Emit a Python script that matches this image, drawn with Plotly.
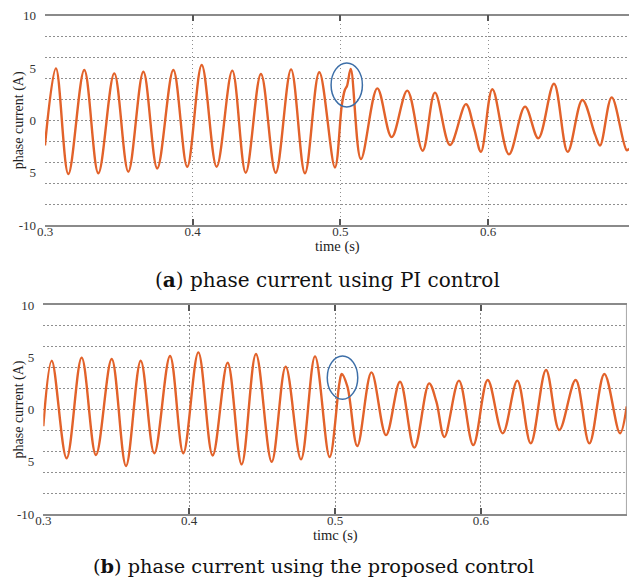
import plotly.graph_objects as go

# ---------------- data ----------------
# (a) PI control
t_a = [0.3000, 0.3074, 0.3158, 0.3266, 0.3361, 0.3469, 0.3564, 0.3666, 0.3760,
       0.3869, 0.3963, 0.4061, 0.4162, 0.4268, 0.4359, 0.4462, 0.4562, 0.4666,
       0.4760, 0.4857, 0.4963, 0.5010, 0.5030, 0.5045, 0.5070, 0.5139, 0.5250,
       0.5347, 0.5453, 0.5557, 0.5640, 0.5742, 0.5850, 0.5905, 0.5952, 0.6029,
       0.6141, 0.6250, 0.6340, 0.6446, 0.6539, 0.6638, 0.6725, 0.6758, 0.6837,
       0.6938, 0.6955]
i_a = [-2.4, 4.97, -5.13, 4.81, -5.06, 4.49, -4.90, 4.65, -4.59,
       4.81, -4.43, 5.29, -4.43, 4.75, -5.00, 4.43, -5.00, 4.87,
       -5.06, 4.60, -4.50, 1.50, 2.90, 3.30, 4.90, -3.70, 3.06,
       -1.60, 2.84, -2.90, 2.65, -2.35, 1.55, -0.76, -3.00, 2.97,
       -3.25, 1.31, -1.71, 3.50, -3.00, 1.95, -1.39, -2.40, 2.20,
       -2.85, -2.70]

# (b) proposed control
t_b = [0.3000, 0.3058, 0.3160, 0.3263, 0.3361, 0.3469, 0.3567, 0.3668, 0.3761,
       0.3869, 0.3960, 0.4063, 0.4161, 0.4264, 0.4360, 0.4458, 0.4566, 0.4662,
       0.4767, 0.4863, 0.4963, 0.5030, 0.5046, 0.5085, 0.5153, 0.5250, 0.5350,
       0.5446, 0.5544, 0.5645, 0.5695, 0.5750, 0.5850, 0.5948, 0.6047, 0.6150,
       0.6250, 0.6342, 0.6447, 0.6538, 0.6650, 0.6744, 0.6847, 0.6954, 0.7000]
i_b = [-1.6, 4.67, -4.67, 4.96, -4.35, 4.83, -5.40, 4.67, -4.19,
       5.12, -4.19, 5.47, -4.40, 4.48, -5.25, 5.31, -5.00, 4.10,
       -4.77, 5.08, -4.55, 2.50, 3.40, 2.20, -3.50, 3.55, -2.45,
       2.66, -3.65, 2.50, 0.75, -2.63, 2.76, -3.40, 2.82, -2.28,
       2.76, -3.24, 3.78, -1.96, 2.82, -3.24, 3.40, -2.28, 0.30]

x_ticks = [0.3, 0.4, 0.5, 0.6, 0.7]
x_ticktext = ["0.3", "0.4", "0.5", "0.6", "0.7"]
y_grid = [-10, -8, -6, -4, -2, 0, 2, 4, 6, 8, 10]
y_ticks = [-10, -5, 0, 5, 10]
y_ticktext = ["-10", "5", "0", "5", "10"]

# highlighted regions (ellipses), in data units
ell_a = dict(x0=0.4937, x1=0.5149, y0=1.28, y1=5.48)
ell_b = dict(x0=0.4947, x1=0.5156, y0=0.98, y1=5.12)

captions = ["(<b>a</b>) phase current using PI control",
            "(<b>b</b>) phase current using the proposed control"]
x_titles = ["time (s)", "timc (s)"]
y_title = "phase current (A)"

# ---------------- figure ----------------
W, H = 629, 586
LINE = "#E2622A"
GRID = "#8f8f8f"
DASH = "1.5px,2.5px"
SERIF = "Liberation Serif"
CAP_FONT = "DejaVu Serif"

fig = go.Figure()
fig.add_trace(go.Scatter(x=t_a, y=i_a, mode="lines", xaxis="x", yaxis="y",
                         line=dict(color=LINE, width=2.4, shape="spline", smoothing=1.0),
                         showlegend=False, hoverinfo="x+y"))
fig.add_trace(go.Scatter(x=t_b, y=i_b, mode="lines", xaxis="x2", yaxis="y2",
                         line=dict(color=LINE, width=2.4, shape="spline", smoothing=1.0),
                         showlegend=False, hoverinfo="x+y"))
# invisible anchors so the label axes are drawn
for xa, ya in (("x", "y3"), ("x2", "y4")):
    fig.add_trace(go.Scatter(x=[x_ticks[0]], y=[y_ticks[2]], mode="markers", xaxis=xa, yaxis=ya,
                             marker=dict(opacity=0), showlegend=False, hoverinfo="skip"))

def xax(domain, rng, anchor):
    return dict(domain=domain, range=rng, anchor=anchor, automargin=False,
                tickmode="array", tickvals=x_ticks, ticktext=x_ticktext,
                ticks="inside", ticklen=6, tickwidth=2, tickcolor="#555",
                showline=True, linecolor="#8a8a8a", linewidth=1.5, mirror="ticks",
                showgrid=True, gridcolor=GRID, gridwidth=1, griddash=DASH,
                zeroline=False, ticklabelstandoff=-6,
                tickfont=dict(family=SERIF, size=13, color="#333"))

def ygrid(domain, anchor):
    return dict(domain=domain, range=[-10, 10], anchor=anchor, automargin=False,
                tickmode="array", tickvals=y_grid, showticklabels=False,
                ticks="", showline=False, zeroline=False,
                showgrid=True, gridcolor=GRID, gridwidth=1, griddash=DASH)

def ylab(over, anchor):
    return dict(overlaying=over, range=[-10, 10], anchor=anchor, side="left",
                automargin=False,
                tickmode="array", tickvals=y_ticks, ticktext=y_ticktext,
                ticks="", showline=False, zeroline=False, showgrid=False,
                ticklabelstandoff=8,
                tickfont=dict(family=SERIF, size=13, color="#333"))

ya_dom = [1 - 225 / H, 1 - 15.7 / H]
yb_dom = [1 - 514 / H, 1 - 305 / H]
xa_dom = [45 / W, 1.0]
xb_dom = [43.3 / W, 626.7 / W]

fig.update_layout(
    width=W, height=H, margin=dict(l=0, r=0, t=0, b=0, autoexpand=False),
    paper_bgcolor="white", plot_bgcolor="white",
    xaxis=xax(xa_dom, [0.3, 0.6954], "y"),
    yaxis=ygrid(ya_dom, "x"),
    yaxis3=ylab("y", "x"),
    xaxis2=xax(xb_dom, [0.3, 0.7], "y2"),
    yaxis2=ygrid(yb_dom, "x2"),
    yaxis4=ylab("y2", "x2"),
)

# right border of panel (b)
fig.add_shape(type="line", xref="x2", yref="y2 domain", x0=0.7, x1=0.7, y0=0, y1=1,
              line=dict(color="#8a8a8a", width=1.5))
# ellipses
fig.add_shape(type="circle", xref="x", yref="y", **ell_a,
              line=dict(color="#3D6FA8", width=1.5))
fig.add_shape(type="circle", xref="x2", yref="y2", **ell_b,
              line=dict(color="#3D6FA8", width=1.5))

# y-axis titles
for dom in (ya_dom, yb_dom):
    fig.add_annotation(text=y_title, xref="paper", yref="paper", textangle=-90,
                       x=19 / W, y=(dom[0] + dom[1]) / 2, xanchor="center", yanchor="middle",
                       showarrow=False, font=dict(family=SERIF, size=14, color="#222"))

# x-axis titles
fig.add_annotation(text=x_titles[0], xref="paper", yref="paper",
                   x=(xa_dom[0] + xa_dom[1]) / 2, y=1 - 247 / H, yanchor="middle",
                   showarrow=False, font=dict(family=SERIF, size=14.5, color="#222"))
fig.add_annotation(text=x_titles[1], xref="paper", yref="paper",
                   x=(xb_dom[0] + xb_dom[1]) / 2, y=1 - 535 / H, yanchor="middle",
                   showarrow=False, font=dict(family=SERIF, size=14.5, color="#222"))

# captions
fig.add_annotation(text=captions[0], xref="paper", yref="paper", x=327 / W, y=1 - 280 / H,
                   yanchor="middle", showarrow=False,
                   font=dict(family=CAP_FONT, size=20, color="#111"))
fig.add_annotation(text=captions[1], xref="paper", yref="paper", x=313 / W, y=1 - 566 / H,
                   yanchor="middle", showarrow=False,
                   font=dict(family=CAP_FONT, size=19.3, color="#111"))

fig.write_html("out.html")
